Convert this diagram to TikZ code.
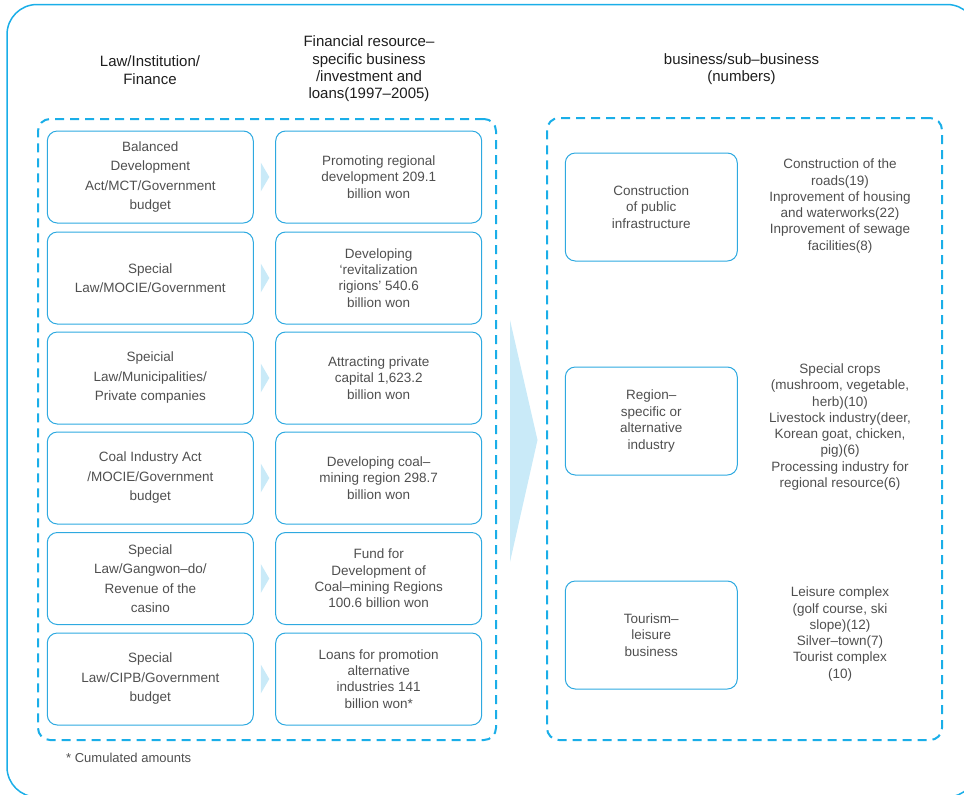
\documentclass[tikz,border=0pt]{standalone}
\usepackage{fontspec}
\setmainfont{Liberation Sans}
\usetikzlibrary{calc}
\definecolor{cy}{HTML}{1AAEE8}
\definecolor{boxline}{HTML}{2EA9E0}
\definecolor{arr}{HTML}{C9EAF8}
\definecolor{txt}{HTML}{4F4F4F}
\definecolor{hd}{HTML}{1E1E1E}
\begin{document}
\begin{tikzpicture}[x=1pt,y=-1pt,
  frame/.style={draw=cy, line width=1.5pt, rounded corners=30pt},
  hdr/.style={font=\fontsize{15}{17.3}\selectfont, text=hd, align=center, inner sep=0pt},
  dbox/.style={draw=cy, line width=2pt, dash pattern=on 9pt off 6pt, rounded corners=12pt, inner sep=0pt},
  lbox/.style={draw=boxline, line width=1pt, rounded corners=10pt, minimum width=206pt, minimum height=92pt, inner sep=0pt, text=txt, align=center, font=\fontsize{13.5}{19.5}\selectfont},
  rbox/.style={draw=boxline, line width=1pt, rounded corners=10pt, minimum width=206pt, minimum height=92pt, inner sep=0pt, text=txt, align=center, font=\fontsize{13.5}{16.3}\selectfont},
  bbox/.style={draw=boxline, line width=1pt, rounded corners=10pt, minimum width=172pt, minimum height=108pt, inner sep=0pt, text=txt, align=center, font=\fontsize{13.5}{16.6}\selectfont},
  lst/.style={text=txt, align=center, inner sep=0pt, font=\fontsize{13.5}{16.3}\selectfont},
  arrowfill/.style={fill=arr, draw=none}
]
\useasboundingbox (0,0) rectangle (964,795);
\begin{scope}
  \clip (0,0) rectangle (964,795);
  \draw[frame] (7,4.5) rectangle (977,797);
\end{scope}

% headers
\node[hdr] (h1) at (150,70) {Law/Institution/\\Finance};
\node[hdr] (h2) at (369,69) {Financial resource–\\specific business\\/investment and\\loans(1997–2005)};
\node[hdr] (h3) at (741.5,69) {business/sub–business\\(numbers)};

% dashed containers
\node[dbox, minimum width=458pt, minimum height=621pt] (DL) at (267,429.5) {};
\node[dbox, minimum width=395pt, minimum height=622pt] (DR) at (744.5,429) {};

% left column
\node[lbox] (L1) at (150.3,177) {Balanced\\Development\\Act/MCT/Government\\budget};
\node[lbox] (L2) at (150.3,278) {Special\\Law/MOCIE/Government};
\node[lbox] (L3) at (150.3,378) {Speicial\\Law/Municipalities/\\Private companies};
\node[lbox] (L4) at (150.3,478) {Coal Industry Act\\/MOCIE/Government\\budget};
\node[lbox] (L5) at (150.3,578.5) {Special\\Law/Gangwon–do/\\Revenue of the\\casino};
\node[lbox] (L6) at (150.3,679) {Special\\Law/CIPB/Government\\budget};

% second column
\node[rbox] (R1) at (378.7,177) {Promoting regional\\development 209.1\\billion won};
\node[rbox] (R2) at (378.7,278) {Developing\\‘revitalization\\rigions’ 540.6\\billion won};
\node[rbox] (R3) at (378.7,378) {Attracting private\\capital 1,623.2\\billion won};
\node[rbox] (R4) at (378.7,478) {Developing coal–\\mining region 298.7\\billion won};
\node[rbox] (R5) at (378.7,578.5) {Fund for\\Development of\\Coal–mining Regions\\100.6 billion won};
\node[rbox] (R6) at (378.7,679) {Loans for promotion\\alternative\\industries 141\\billion won*};

% small arrows
\foreach \i in {1,...,6}{
  \fill[arrowfill] ($(L\i.east)+(7,-14.5)$) -- ($(L\i.east)+(15.5,0)$) -- ($(L\i.east)+(7,14.5)$) -- cycle;
}

% big arrow
\fill[arrowfill] ($(DL.east)+(13,-109.5)$) -- ($(DR.west)+(-8.5,11)$) -- ($(DL.east)+(13,132.5)$) -- cycle;

% right boxes
\node[bbox] (B1) at (651.3,207) {Construction\\of public\\infrastructure};
\node[bbox] (B2) at (651.3,421) {Region–\\specific or\\alternative\\industry};
\node[bbox] (B3) at (651.3,635) {Tourism–\\leisure\\business};

% lists
\node[lst] (T1) at (840,206) {Construction of the\\roads(19)\\Inprovement of housing\\and waterworks(22)\\Inprovement of sewage\\facilities(8)};
\node[lst] (T2) at (840,427) {Special crops\\(mushroom, vegetable,\\herb)(10)\\Livestock industry(deer,\\Korean goat, chicken,\\pig)(6)\\Processing industry for\\regional resource(6)};
\node[lst] (T3) at (840,634) {Leisure complex\\(golf course, ski\\slope)(12)\\Silver–town(7)\\Tourist complex\\(10)};

% footnote
\node[anchor=west, inner sep=0pt, text=txt, font=\fontsize{13}{15}\selectfont] (fn) at (66,758) {* Cumulated amounts};
\end{tikzpicture}
\end{document}
